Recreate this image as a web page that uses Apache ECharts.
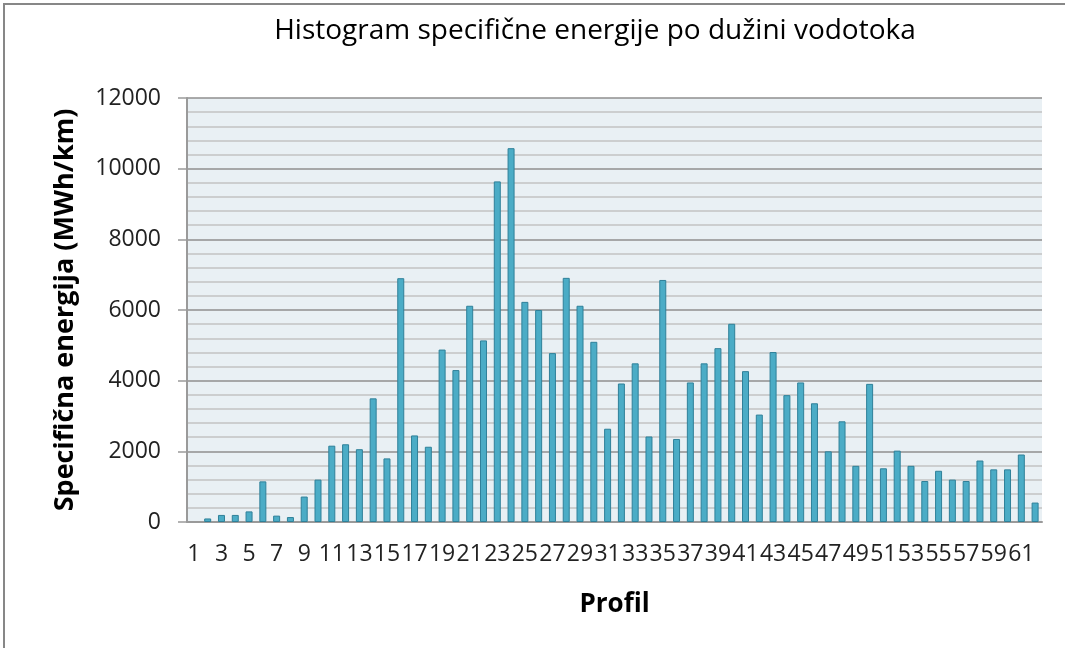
<!DOCTYPE html>
<html>
<head>
<meta charset="utf-8">
<script src="https://cdn.jsdelivr.net/npm/echarts@6/dist/echarts.min.js"></script>
<style>html,body{margin:0;padding:0;background:#fff}#c{width:1065px;height:648px}</style>
</head>
<body>
<div id="c"></div>
<script>
const titleText = 'Histogram specifične energije po dužini vodotoka';
const xName = 'Profil';
const yName = 'Specifična energija (MWh/km)';
const categories = [];
for (let i = 1; i <= 62; i++) categories.push(String(i));
const values = [
  null, 100, 200, 200, 300, 1150, 180, 140, 720, 1200,
  2160, 2200, 2060, 3500, 1800, 6900, 2450, 2130, 4880, 4300,
  6120, 5140, 9640, 10580, 6230, 6000, 4780, 6910, 6120, 5100,
  2640, 3920, 4490, 2420, 6850, 2350, 3950, 4490, 4920, 5610,
  4270, 3040, 4810, 3590, 3950, 3360, 2000, 2850, 1590, 3910,
  1520, 2020, 1590, 1160, 1450, 1200, 1160, 1740, 1490, 1490,
  1910, 550
];
const yTicks = { min: 0, max: 12000, interval: 2000 };

const chart = echarts.init(document.getElementById('c'));
chart.setOption({
  animation: false,
  backgroundColor: '#ffffff',
  title: {
    text: titleText,
    left: 590, top: 12, textAlign: 'center',
    textStyle: { fontFamily: 'Open Sans', fontSize: 28, fontWeight: 'normal', color: '#000' }
  },
  graphic: [{
    type: 'rect', shape: { x: 4, y: 4, width: 1100, height: 700 },
    style: { fill: 'none', stroke: '#878787', lineWidth: 2 }, silent: true, z: -1
  }],
  grid: {
    left: 187, right: 23, top: 98, bottom: 126,
    show: true, backgroundColor: '#E9F0F4', borderWidth: 0
  },
  xAxis: {
    type: 'category', data: categories,
    name: xName, nameLocation: 'middle', nameGap: 70,
    nameTextStyle: { fontFamily: 'Open Sans', fontSize: 26, fontWeight: 'bold', color: '#000' },
    axisLine: { lineStyle: { color: '#9a9a9a', width: 2 } },
    axisTick: { show: false },
    axisLabel: { interval: 1, margin: 21, fontFamily: 'Open Sans', fontSize: 23, color: '#222', hideOverlap: false }
  },
  yAxis: {
    type: 'value', min: yTicks.min, max: yTicks.max, interval: yTicks.interval,
    name: yName, nameLocation: 'middle', nameGap: 108,
    nameTextStyle: { fontFamily: 'Open Sans', fontSize: 27, fontWeight: 'bold', color: '#000' },
    axisLine: { show: true, lineStyle: { color: '#9a9a9a', width: 2 } },
    axisTick: { show: true, length: 9, lineStyle: { color: '#9a9a9a', width: 1.5 } },
    axisLabel: { margin: 26, fontFamily: 'Open Sans', fontSize: 23, color: '#222', formatter: v => String(v) },
    splitLine: { lineStyle: { color: '#8f8f8f', width: 1.5 } },
    minorTick: { show: false, splitNumber: 5 },
    minorSplitLine: { show: true, lineStyle: { color: '#c2c2c2', width: 1.5 } }
  },
  series: [{
    type: 'bar', data: values, barWidth: 7,
    itemStyle: { color: '#4BACC6', borderColor: '#2F8099', borderWidth: 1 }
  }]
});
</script>
</body>
</html>
